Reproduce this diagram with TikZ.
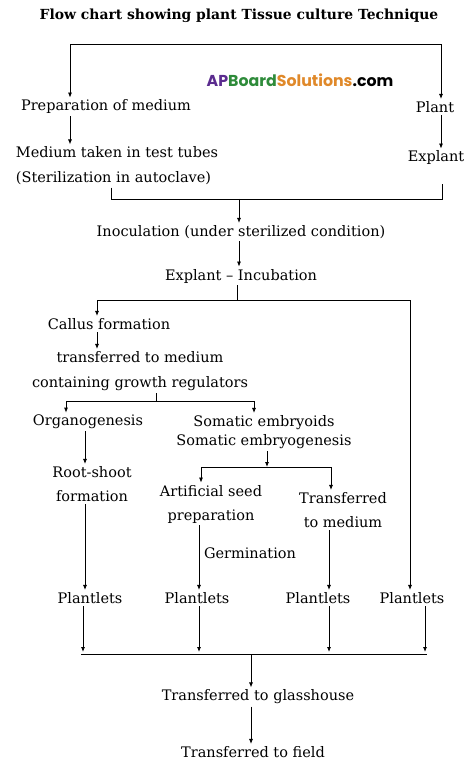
\documentclass[tikz,border=0pt]{standalone}
\usepackage{fontspec}
\setmainfont{DejaVu Serif}
\newfontfamily\wmfont{Poppins}
\usetikzlibrary{arrows.meta}
\definecolor{wmpurple}{HTML}{5B2C8F}
\definecolor{wmgreen}{HTML}{2E8B3A}
\definecolor{wmorange}{HTML}{E0892A}

\begin{document}
\begin{tikzpicture}[x=1pt, y=-1pt, line width=0.8pt,
  lbl/.style={inner sep=2pt, font=\fontsize{14.5}{24}\selectfont},
  arr/.style={-{Latex[length=5pt,width=4pt]}},
  arrs/.style={{Latex[length=5pt,width=4pt]}-{Latex[length=5pt,width=4pt]}}]
\fill[white] (0,0) rectangle (474,767);
\useasboundingbox (0,0) rectangle (474,767);

\node[lbl, font=\bfseries\fontsize{13.9}{18}\selectfont] (title) at (239,16) {Flow chart showing plant Tissue culture Technique};
\node[inner sep=0pt, font=\wmfont\bfseries\fontsize{15.8}{18}\selectfont] (wm) at (300,80) {\textcolor{wmpurple}{AP}\textcolor{wmgreen}{Board}\textcolor{wmorange}{Solutions}.com};

\node[lbl] (prep) at (106,107) {Preparation of medium};
\node[lbl] (plant) at (435,107) {Plant};
\node[lbl, align=left, font=\fontsize{14.5}{25}\selectfont] (med) at (117,166) {Medium taken in test tubes\\(Sterilization in autoclave)};
\node[lbl] (expl) at (436,158) {Explant};
\node[lbl] (inoc) at (241,232) {Inoculation (under sterilized condition)};
\node[lbl] (incu) at (241,276) {Explant -- Incubation};
\node[lbl] (callus) at (109,324) {Callus formation};
\node[lbl, align=center, font=\fontsize{14.5}{25}\selectfont] (trm) at (140,371) {transferred to medium\\containing growth regulators};
\node[lbl] (org) at (88,422) {Organogenesis};
\node[lbl, align=center, font=\fontsize{14.5}{19}\selectfont] (som) at (264,432) {Somatic embryoids\\Somatic embryogenesis};
\node[lbl, align=center] (rs) at (92,484) {Root-shoot\\formation};
\node[lbl, align=center] (art) at (211,504) {Artificial seed\\preparation};
\node[lbl, align=center] (tfm) at (343,510) {Transferred\\to medium};
\node[lbl] (germ) at (250,553) {Germination};
\node[lbl] (pl1) at (90,598) {Plantlets};
\node[lbl] (pl2) at (197,598) {Plantlets};
\node[lbl] (pl3) at (318,598) {Plantlets};
\node[lbl] (pl4) at (412,598) {Plantlets};
\node[lbl] (glass) at (258,697) {Transferred to glasshouse};
\node[lbl] (field) at (253,752) {Transferred to field};

% junctions
\coordinate (ta) at (70,44);
\coordinate (tb) at (441,44);
\coordinate (ja) at (111,199);
\coordinate (jb) at (442,199);
\coordinate (jc) at (239,199);
\coordinate (jd) at (237,300);
\coordinate (je) at (97,300);
\coordinate (jf) at (410,300);
\coordinate (jg) at (156,401);
\coordinate (jh) at (66,401);
\coordinate (ji) at (254,401);
\coordinate (jk) at (85,466);
\coordinate (jl) at (267,467);
\coordinate (jm) at (201,467);
\coordinate (jn) at (331,467);
\coordinate (jp) at (199,560);
\coordinate (jq) at (329,560);
\coordinate (b1) at (83,654);
\coordinate (b2) at (199,654);
\coordinate (b3) at (329,654);
\coordinate (b4) at (425,654);
\coordinate (ba) at (81,654);
\coordinate (bb) at (427,654);
\coordinate (bm) at (251,654);

\draw[arrs] (prep.north -| ta) -- (ta) -- (tb) -- (plant.north -| tb);
\draw[arr] (prep.south -| ta) -- (med.north -| ta);
\draw[arr] (plant.south -| tb) -- (expl.north -| tb);
\draw[shorten >=17pt] (med.south -| ja) -- (ja) -- (jb) -- (expl.south -| jb);
\draw[arr] (jc) -- (inoc.north -| jc);
\draw[arr] (inoc.south -| jc) -- (incu.north -| jc);
\draw (incu.south -| jd) -- (jd);
\draw[arrs] (callus.north -| je) -- (je) -- (jf) -- (pl4.north -| jf);
\draw[arr] (callus.south -| je) -- (trm.north -| je);
\draw (trm.south -| jg) -- (jg);
\draw[arrs] (org.north -| jh) -- (jh) -- (ji) -- (som.north -| ji);
\draw[arr] (org.south -| jk) -- (rs.north -| jk);
\draw[arr] (som.south -| jl) -- (jl);
\draw[arrs] (art.north -| jm) -- (jm) -- (jn) -- (tfm.north -| jn);
\draw[arr] (rs.south -| jk) -- (pl1.north -| jk);
\draw[arr] (art.south -| jp) -- (pl2.north -| jp);
\draw[arr] (tfm.south -| jq) -- (pl3.north -| jq);
\draw[arr, shorten >=2pt] (pl1.south -| b1) -- (b1);
\draw[arr, shorten >=2pt] (pl2.south -| b2) -- (b2);
\draw[arr, shorten >=2pt] (pl3.south -| b3) -- (b3);
\draw[arr, shorten >=2pt] (pl4.south -| b4) -- (b4);
\draw (ba) -- (bb);
\draw[arr] (bm) -- (glass.north -| bm);
\draw[arr] (glass.south -| bm) -- (field.north -| bm);
\end{tikzpicture}
\end{document}
